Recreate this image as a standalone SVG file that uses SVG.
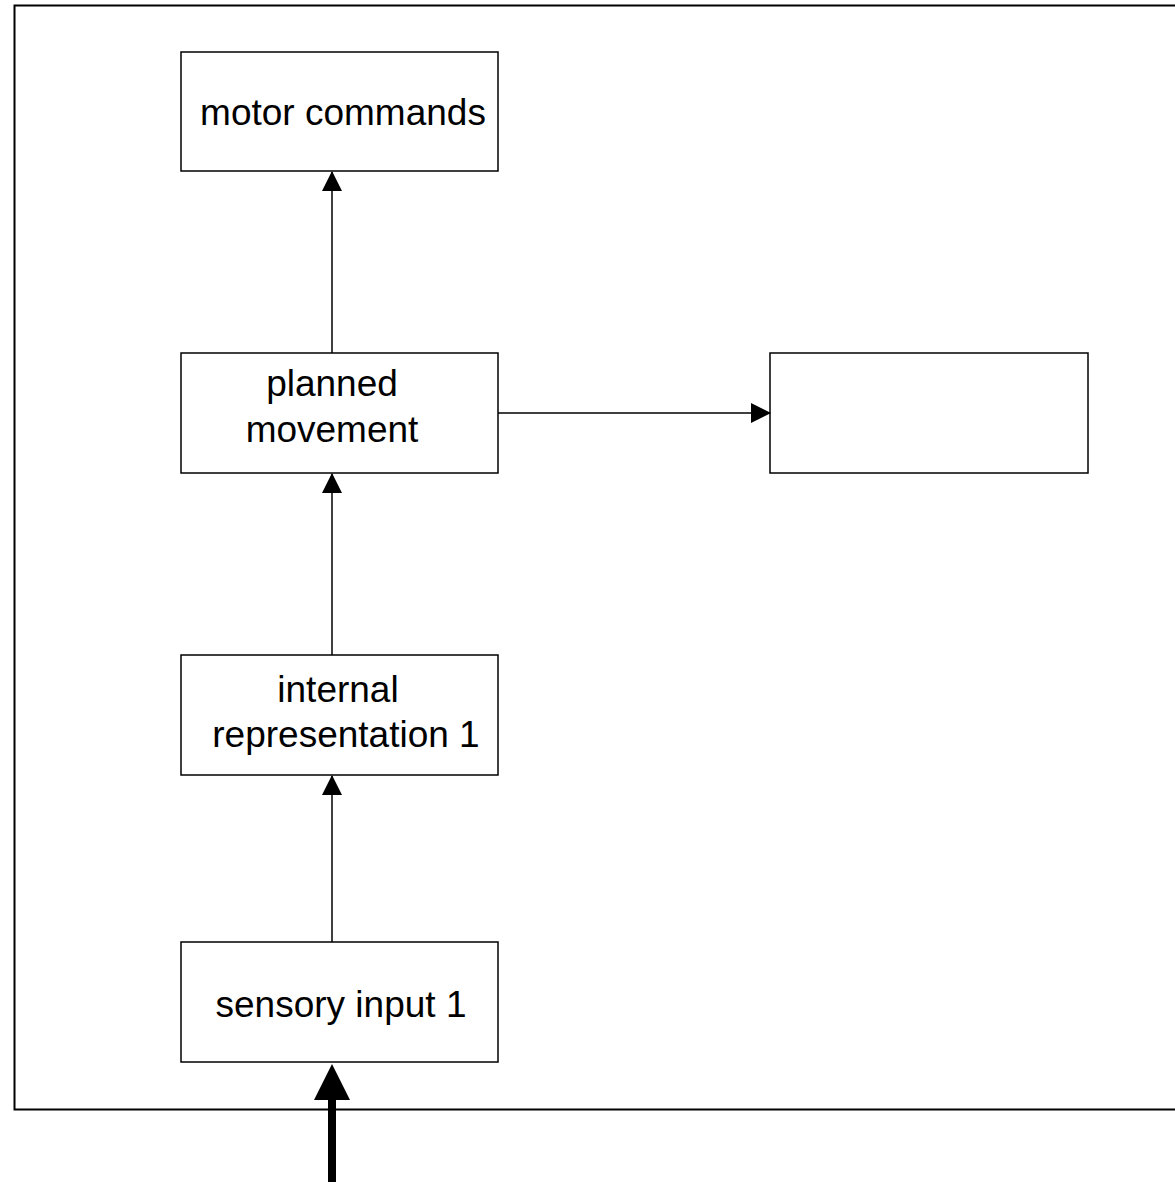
<svg xmlns="http://www.w3.org/2000/svg" width="1175" height="1182" viewBox="0 0 1175 1182">
<style>
.box{fill:#fff;stroke:#000;stroke-width:1.5}
.lbl{font-family:"Liberation Sans",Arial,sans-serif;font-size:37px;fill:#000;text-anchor:middle}
.conn{stroke:#000;stroke-width:1.5;fill:none}
</style>
<defs>
<marker id="ah" markerUnits="userSpaceOnUse" markerWidth="20" markerHeight="20" refX="19" refY="10" orient="auto">
<path d="M0,0 L20,10 L0,20 z" fill="#000"/>
</marker>
</defs>
<rect width="1175" height="1182" fill="#fff"/>
<g id="frame"><rect x="14.5" y="5.5" width="1180" height="1104" fill="none" stroke="#000" stroke-width="2"/></g>
<g id="motor-commands"><rect class="box" x="181" y="52" width="317" height="119"/><text class="lbl" x="343" y="125">motor commands</text></g>
<g id="planned-movement"><rect class="box" x="181" y="353" width="317" height="120"/><text class="lbl" x="332" y="396">planned</text><text class="lbl" x="332" y="442">movement</text></g>
<g id="empty-box"><rect class="box" x="770" y="353" width="318" height="120"/></g>
<g id="internal-representation"><rect class="box" x="181" y="655" width="317" height="120"/><text class="lbl" x="338" y="702">internal</text><text class="lbl" x="346" y="747">representation 1</text></g>
<g id="sensory-input"><rect class="box" x="181" y="942" width="317" height="120"/><text class="lbl" x="341" y="1017">sensory input 1</text></g>
<g id="connectors">
<line class="conn" x1="332" y1="353" x2="332" y2="172" marker-end="url(#ah)"/>
<line class="conn" x1="498" y1="413" x2="770" y2="413" marker-end="url(#ah)"/>
<line class="conn" x1="332" y1="655" x2="332" y2="474" marker-end="url(#ah)"/>
<line class="conn" x1="332" y1="942" x2="332" y2="776" marker-end="url(#ah)"/>
<line x1="332" y1="1182" x2="332" y2="1098" stroke="#000" stroke-width="8"/>
<polygon points="314,1100 350,1100 332,1064" fill="#000"/>
</g>
</svg>
